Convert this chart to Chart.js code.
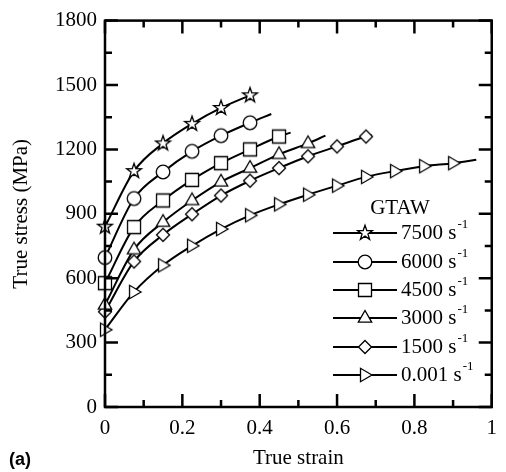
<!DOCTYPE html>
<html><head><meta charset="utf-8">
<script src="https://cdn.jsdelivr.net/npm/chart.js@4.4.1/dist/chart.umd.min.js"></script>
<style>html,body{margin:0;padding:0;background:#fff}</style>
</head><body>
<canvas id="c" width="506" height="472"></canvas>
<script>
// ---- data ----
const rateLabels = ['7500', '6000', '4500', '3000', '1500', '0.001'];
const strainMarks = [0, 0.075, 0.15, 0.225, 0.3, 0.375, 0.45, 0.525, 0.6, 0.675, 0.75, 0.825, 0.9];
const stress7500 = [840, 1099, 1228, 1319, 1393, 1452];
const stress6000 = [696, 971, 1095, 1191, 1264, 1324];
const stress4500 = [577, 838, 962, 1058, 1136, 1200, 1260];
const stress3000 = [476, 733, 861, 962, 1049, 1113, 1177, 1228];
const stress1500 = [444, 678, 802, 898, 985, 1054, 1113, 1168, 1214, 1260];
const stress0001 = [360, 536, 660, 751, 829, 893, 944, 989, 1031, 1072, 1099, 1122, 1136];
// end of each fitted curve [strain, stress] (null = ends at last marker)
const end7500 = null;
const end6000 = [0.43, 1365];
const end4500 = [0.48, 1278];
const end3000 = [0.57, 1264];
const end1500 = [0.69, 1266];
const end0001 = [0.96, 1152];
const xTicks = [0, 0.2, 0.4, 0.6, 0.8, 1];
const yTicks = [0, 300, 600, 900, 1200, 1500, 1800];

// ---- marker images ----
function makeMarker(type) {
  const c = document.createElement('canvas');
  c.width = 22; c.height = 22;
  const g = c.getContext('2d');
  g.translate(11, 11);
  g.lineWidth = 1.3; g.strokeStyle = '#000'; g.fillStyle = '#fff';
  g.beginPath();
  if (type === 'star') {
    for (let i = 0; i < 10; i++) {
      const r = i % 2 ? 3.1 : 7.8;
      const a = -Math.PI / 2 + i * Math.PI / 5;
      const px = r * Math.cos(a), py = r * Math.sin(a);
      i ? g.lineTo(px, py) : g.moveTo(px, py);
    }
    g.closePath();
  } else if (type === 'circle') {
    g.arc(0, 0, 6.8, 0, Math.PI * 2);
  } else if (type === 'square') {
    g.rect(-6.5, -6.5, 13, 13);
  } else if (type === 'triangle') {
    g.moveTo(0, -7.5); g.lineTo(6.7, 4.2); g.lineTo(-6.7, 4.2); g.closePath();
  } else if (type === 'diamond') {
    g.moveTo(0, -6.5); g.lineTo(6.5, 0); g.lineTo(0, 6.5); g.lineTo(-6.5, 0); g.closePath();
  } else if (type === 'right') {
    g.moveTo(7, 0); g.lineTo(-4.5, -6.7); g.lineTo(-4.5, 6.7); g.closePath();
  }
  g.fill(); g.stroke();
  return c;
}
const markerTypes = ['star', 'circle', 'square', 'triangle', 'diamond', 'right'];
const markers = markerTypes.map(makeMarker);

const seriesStress = [stress7500, stress6000, stress4500, stress3000, stress1500, stress0001];
const seriesEnd = [end7500, end6000, end4500, end3000, end1500, end0001];

const datasets = seriesStress.map((vals, k) => {
  const data = vals.map((v, i) => ({x: strainMarks[i], y: v}));
  const nMarks = data.length;
  if (seriesEnd[k]) data.push({x: seriesEnd[k][0], y: seriesEnd[k][1]});
  return {
    label: rateLabels[k] + ' s-1',
    data,
    borderColor: '#000',
    borderWidth: 2,
    backgroundColor: '#fff',
    pointStyle: markers[k],
    pointRadius: ctx => (ctx.dataIndex < nMarks ? 7 : 0),
    pointHoverRadius: 0,
    cubicInterpolationMode: 'monotone',
    fill: false,
    clip: false
  };
});

const fontSerif = 'Liberation Serif, Times New Roman, serif';

const decorPlugin = {
  id: 'decor',
  afterDatasetsDraw(chart) {
    const {ctx, chartArea: a, scales: {x, y}} = chart;
    ctx.save();
    ctx.strokeStyle = '#000';
    ctx.lineWidth = 2.5;
    ctx.lineCap = 'butt';
    // frame
    ctx.strokeRect(a.left, a.top, a.right - a.left, a.bottom - a.top);
    // ticks on all four sides, pointing inward
    ctx.beginPath();
    for (let i = 0; i <= 10; i++) {
      const px = x.getPixelForValue(i / 10);
      const len = i % 2 === 0 ? 13 : 7;
      ctx.moveTo(px, a.bottom); ctx.lineTo(px, a.bottom - len);
      ctx.moveTo(px, a.top); ctx.lineTo(px, a.top + len);
    }
    for (let i = 0; i <= 12; i++) {
      const py = y.getPixelForValue(i * 150);
      const len = i % 2 === 0 ? 13 : 7;
      ctx.moveTo(a.left, py); ctx.lineTo(a.left + len, py);
      ctx.moveTo(a.right, py); ctx.lineTo(a.right - len, py);
    }
    ctx.stroke();

    // legend
    ctx.fillStyle = '#000';
    ctx.font = '21px ' + fontSerif;
    ctx.textAlign = 'center';
    ctx.textBaseline = 'middle';
    ctx.fillText('GTAW', 400, 208);
    const rowY = [233, 262, 290, 318, 347, 375];
    rateLabels.forEach((lab, k) => {
      const yy = rowY[k];
      ctx.lineWidth = 2;
      ctx.beginPath(); ctx.moveTo(333, yy); ctx.lineTo(397, yy); ctx.stroke();
      const m = markers[k];
      ctx.drawImage(m, 365 - m.width / 2, yy - m.height / 2);
      ctx.textAlign = 'left';
      ctx.font = '21px ' + fontSerif;
      const t = lab + ' s';
      ctx.fillText(t, 401, yy);
      const w = ctx.measureText(t).width;
      ctx.font = '13px ' + fontSerif;
      ctx.fillText('-1', 401 + w + 1, yy - 8);
    });

    // panel label
    ctx.font = 'bold 18px Liberation Sans, Arial, sans-serif';
    ctx.textAlign = 'left';
    ctx.textBaseline = 'alphabetic';
    ctx.fillText('(a)', 9, 465);
    ctx.restore();
  }
};

new Chart(document.getElementById('c'), {
  type: 'line',
  data: {datasets},
  plugins: [decorPlugin],
  options: {
    responsive: false,
    animation: false,
    events: [],
    layout: {padding: {top: 14, right: 9, left: 0, bottom: 0}},
    plugins: {legend: {display: false}, tooltip: {enabled: false}},
    scales: {
      x: {
        type: 'linear', min: 0, max: 1,
        afterFit: s => { s.height = 65; },
        afterBuildTicks: s => { s.ticks = xTicks.map(v => ({value: v})); },
        grid: {display: false, drawTicks: false},
        border: {display: false},
        ticks: {
          padding: 9, color: '#000', maxRotation: 0, autoSkip: false,
          font: {family: fontSerif, size: 21},
          callback: v => (v === 0 ? '0' : Math.abs(v - 1) < 1e-9 ? '1' : v.toFixed(1))
        },
        title: {display: true, text: 'True strain', color: '#000',
          font: {family: fontSerif, size: 21}, padding: {top: 0, bottom: 1}}
      },
      y: {
        type: 'linear', min: 0, max: 1800,
        afterFit: s => { s.width = 105; },
        afterBuildTicks: s => { s.ticks = yTicks.map(v => ({value: v})); },
        grid: {display: false, drawTicks: false},
        border: {display: false},
        ticks: {
          padding: 8, color: '#000', autoSkip: false,
          font: {family: fontSerif, size: 21},
          callback: v => String(v)
        },
        title: {display: true, text: 'True stress (MPa)', color: '#000',
          font: {family: fontSerif, size: 21}, padding: {top: 9, bottom: 0}}
      }
    }
  }
});
</script>
</body></html>
